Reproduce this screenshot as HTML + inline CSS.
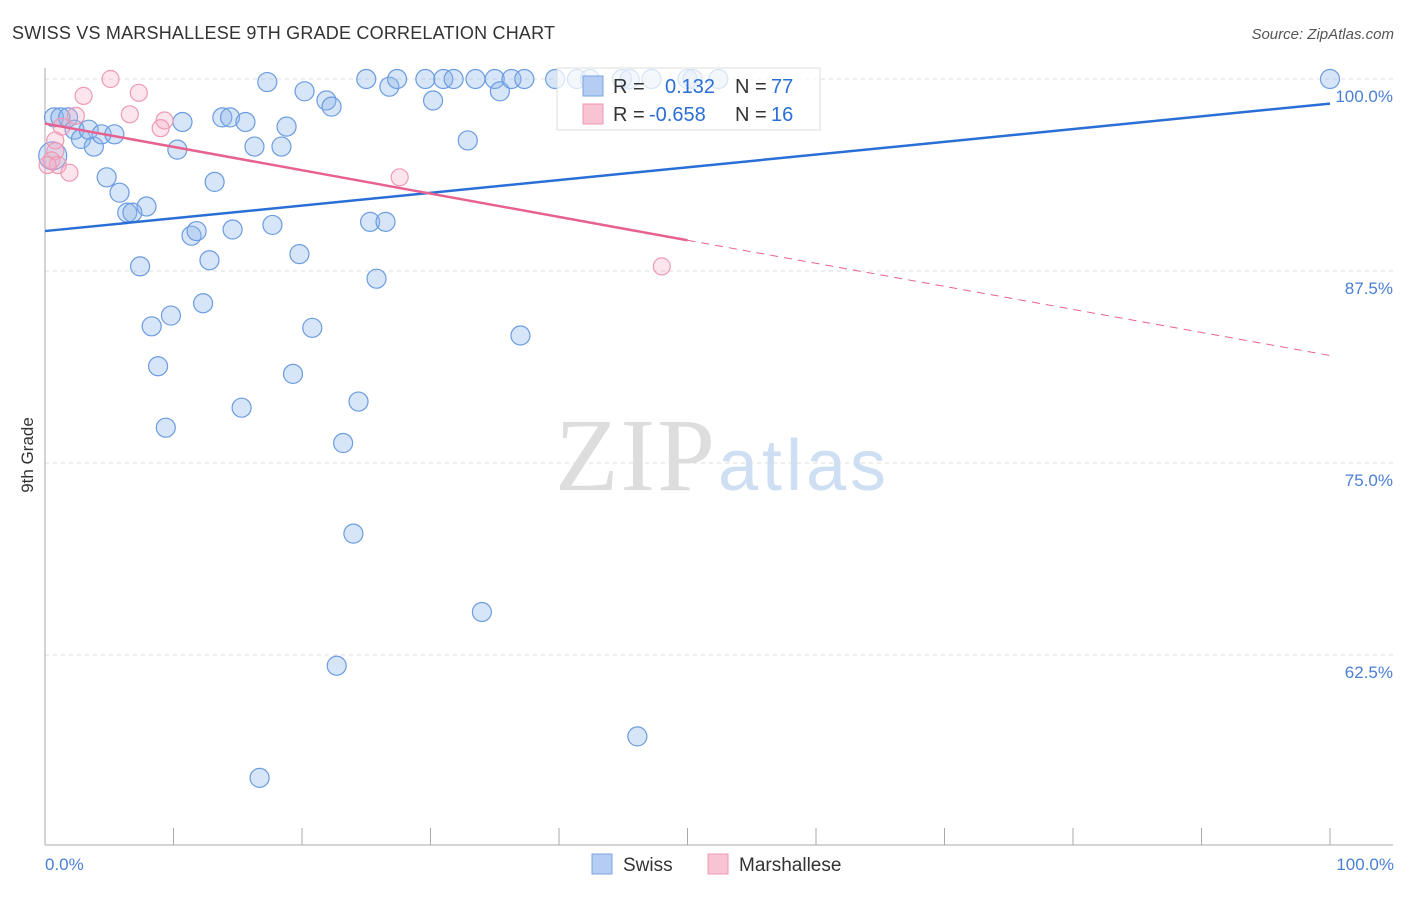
<!DOCTYPE html>
<html><head><meta charset="utf-8"><style>
body{margin:0;background:#fff;font-family:"Liberation Sans",sans-serif}
</style></head><body>
<svg width="1406" height="892" xmlns="http://www.w3.org/2000/svg" font-family="Liberation Sans, sans-serif">
<text x="12" y="39" font-size="18" fill="#333" textLength="543">SWISS VS MARSHALLESE 9TH GRADE CORRELATION CHART</text>
<text x="1394" y="39" font-size="15" fill="#555" text-anchor="end" font-style="italic">Source: ZipAtlas.com</text>
<g id="grid"></g>
<text x="555" y="490" font-size="104" fill="#ddd" textLength="160" font-family="Liberation Serif, serif">ZIP</text>
<text x="718" y="490" font-size="72" fill="#cfdff3" textLength="168">atlas</text>
<g id="axes"></g>
<g id="pts"></g>
<g id="lines"></g>
<g>
<rect x="557" y="68" width="263" height="62" fill="rgba(255,255,255,0.72)" stroke="#ddd"/>
<rect x="583" y="76" width="20" height="20" fill="#b5cdf2" stroke="#7aa3e0"/>
<rect x="583" y="104" width="20" height="20" fill="#f8c3d2" stroke="#ec9ab2"/>
<text x="613" y="93" font-size="20" fill="#333">R =</text><text x="665" y="93" font-size="20" fill="#2a6fd6">0.132</text>
<text x="735" y="93" font-size="20" fill="#333">N =</text><text x="771" y="93" font-size="20" fill="#2a6fd6">77</text>
<text x="613" y="121" font-size="20" fill="#333">R =</text><text x="649" y="121" font-size="20" fill="#2a6fd6">-0.658</text>
<text x="735" y="121" font-size="20" fill="#333">N =</text><text x="771" y="121" font-size="20" fill="#2a6fd6">16</text>
</g>
<text transform="translate(33,455) rotate(-90)" font-size="17" fill="#333" text-anchor="middle">9th Grade</text>
<text x="45" y="870" font-size="17" fill="#4a7fd6">0.0%</text>
<text x="1394" y="870" font-size="17" fill="#4a7fd6" text-anchor="end">100.0%</text>
<g>
<rect x="592" y="854" width="20" height="20" fill="#b5cdf2" stroke="#7aa3e0"/>
<text x="623" y="871" font-size="19" fill="#333">Swiss</text>
<rect x="708" y="854" width="20" height="20" fill="#f8c3d2" stroke="#ec9ab2"/>
<text x="739" y="871" font-size="19" fill="#333">Marshallese</text>
</g>
</svg>
<script>
const yTicks=[100,87.5,75,62.5];
const yTickLabels=["100.0%","87.5%","75.0%","62.5%"];
const xTicks=[0,10,20,30,40,50,60,70,80,90,100];
const swissX=[0.7,1.2,1.8,2.3,2.8,3.4,3.8,4.4,5.4,4.8,5.8,6.4,6.8,7.9,7.4,8.3,8.8,9.4,9.8,10.3,10.7,11.4,11.8,12.3,12.8,13.2,13.8,14.4,14.6,15.3,15.6,16.3,16.7,17.3,17.7,18.4,18.8,19.3,19.8,20.2,20.8,21.9,22.3,22.7,23.2,24.0,24.4,25.0,25.3,25.8,26.5,26.8,27.4,29.6,30.2,31.0,31.8,32.9,33.5,34.0,35.0,35.4,36.3,37.0,37.3,39.7,41.4,42.4,46.1,44.9,45.5,47.2,50.0,50.4,52.4,100,0.6];
const swissY=[97.5,97.5,97.5,96.7,96.1,96.7,95.6,96.4,96.4,93.6,92.6,91.3,91.3,91.7,87.8,83.9,81.3,77.3,84.6,95.4,97.2,89.8,90.1,85.4,88.2,93.3,97.5,97.5,90.2,78.6,97.2,95.6,54.5,99.8,90.5,95.6,96.9,80.8,88.6,99.2,83.8,98.6,98.2,61.8,76.3,70.4,79.0,100,90.7,87.0,90.7,99.5,100,100,98.6,100,100,96.0,100,65.3,100,99.2,100,83.3,100,100,100,100,57.2,100,100,100,100,100,100,100,95.0];
const marshX=[5.1,3.0,7.3,6.6,2.4,9.3,9.0,1.3,0.8,0.8,0.5,1.0,1.9,27.6,48.0,0.2];
const marshY=[100,98.9,99.1,97.7,97.6,97.3,96.8,96.9,96.0,95.3,94.7,94.4,93.9,93.6,87.8,94.4];
const blueLine=[0,90.1,100,98.4], pinkLine=[0,97.1,50,89.5,100,82.0];
const X=v=>45+v*12.85, Y=v=>79+(100-v)*15.36;
const NS="http://www.w3.org/2000/svg";
function mk(tag,attrs,parent){const e=document.createElementNS(NS,tag);for(const k in attrs)e.setAttribute(k,attrs[k]);document.getElementById(parent).appendChild(e);return e;}
yTicks.forEach((t,i)=>{
 const l=mk('line',{x1:45,x2:1393,y1:Y(t),y2:Y(t),stroke:'#ddd','stroke-dasharray':'4,4'},'grid');
 
 
 const tx=mk('text',{x:1393,y:Y(t)+23,'font-size':17,fill:'#4a7fd6','text-anchor':'end'},'grid');
 tx.textContent=yTickLabels[i];
 
 
});
const ya=mk('line',{x1:45,x2:45,y1:68,y2:845,stroke:'#aaa'},'axes');


const xa=mk('line',{x1:45,x2:1393,y1:845,y2:845,stroke:'#aaa'},'axes');


xTicks.forEach(t=>{const l=mk('line',{x1:X(t),x2:X(t),y1:828,y2:845,stroke:'#aaa'},'axes');
 
 });
swissX.forEach((v,i)=>{const r=(i==swissX.length-1)?14:9.5;const c=mk('circle',{cx:X(v),cy:Y(swissY[i]),r:r,fill:'rgba(140,180,235,0.35)',stroke:'#6b9ce0','stroke-width':1.2},'pts');
 
 });
marshX.forEach((v,i)=>{const c=mk('circle',{cx:X(v),cy:Y(marshY[i]),r:8.5,fill:'rgba(245,170,195,0.3)',stroke:'#ee9ab3','stroke-width':1.2},'pts');
 
 });
const bl=mk('line',{x1:X(blueLine[0]),y1:Y(blueLine[1]),x2:X(blueLine[2]),y2:Y(blueLine[3]),stroke:'#2a6fd6','stroke-width':2.5},'lines');


const pl=mk('line',{x1:X(pinkLine[0]),y1:Y(pinkLine[1]),x2:X(pinkLine[2]),y2:Y(pinkLine[3]),stroke:'#e8628e','stroke-width':2.5},'lines');


const pd=mk('line',{x1:X(pinkLine[2]),y1:Y(pinkLine[3]),x2:X(pinkLine[4]),y2:Y(pinkLine[5]),stroke:'#e8628e','stroke-width':1,'stroke-dasharray':'8,6'},'lines');


</script>
</body></html>
